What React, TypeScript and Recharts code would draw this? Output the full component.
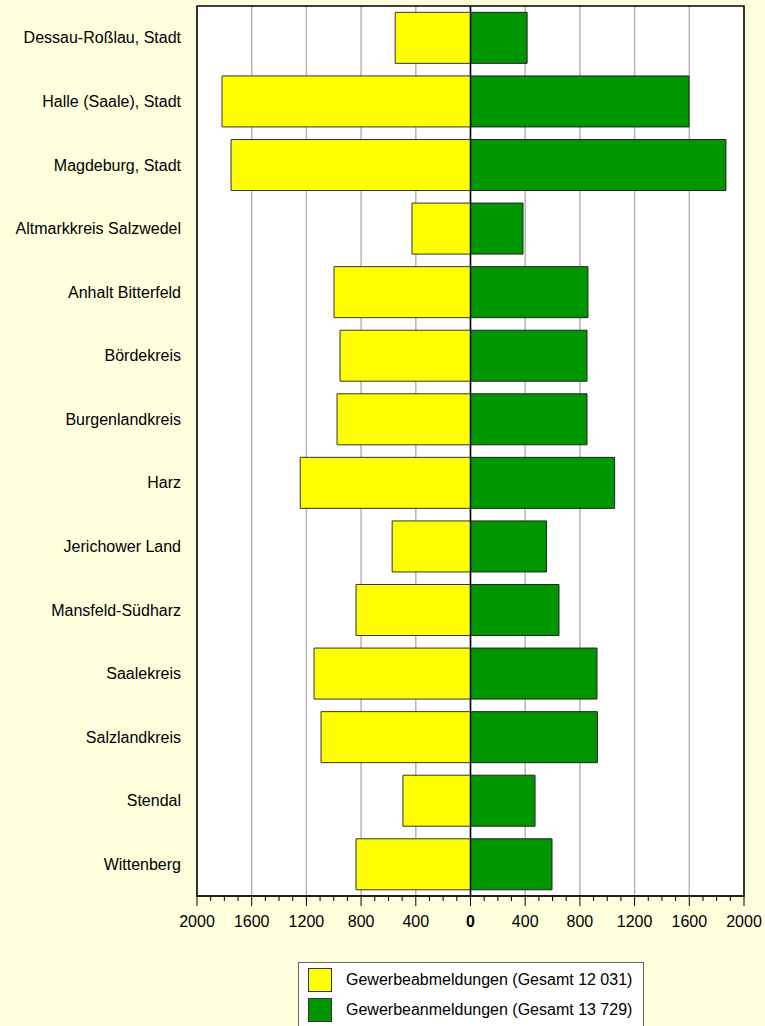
import {
  BarChart,
  Bar,
  XAxis,
  YAxis,
  CartesianGrid,
  ReferenceLine,
  ReferenceArea,
} from "recharts";

const REGIONS = [
  "Dessau-Roßlau, Stadt",
  "Halle (Saale), Stadt",
  "Magdeburg, Stadt",
  "Altmarkkreis Salzwedel",
  "Anhalt Bitterfeld",
  "Bördekreis",
  "Burgenlandkreis",
  "Harz",
  "Jerichower Land",
  "Mansfeld-Südharz",
  "Saalekreis",
  "Salzlandkreis",
  "Stendal",
  "Wittenberg",
];

// left side (yellow)
const ABMELDUNGEN = [551, 1817, 1751, 428, 998, 954, 976, 1245, 573, 837, 1144, 1093, 494, 837];
// right side (green)
const ANMELDUNGEN = [414, 1598, 1868, 384, 859, 852, 852, 1054, 556, 647, 925, 928, 472, 596];

const SERIES_NAMES = [
  "Gewerbeabmeldungen (Gesamt 12 031)",
  "Gewerbeanmeldungen (Gesamt 13 729)",
];
const COLORS = ["#ffff00", "#009600"];

const MAJOR_TICKS = [-2000, -1600, -1200, -800, -400, 0, 400, 800, 1200, 1600, 2000];
const MINOR_OFFSETS = [0, 100, 200, 300];

const ALL_TICKS = MAJOR_TICKS.flatMap((t) =>
  t === 2000 ? [t] : MINOR_OFFSETS.map((o) => t + o)
);

const data = REGIONS.map((name, i) => ({
  name,
  ab: -ABMELDUNGEN[i],
  an: ANMELDUNGEN[i],
}));

const FONT = "'Liberation Sans', Arial, sans-serif";

const AxisTick = ({ x, y, payload }: any) => {
  const v = payload.value;
  const major = MAJOR_TICKS.includes(v);
  return (
    <g>
      <line x1={x} x2={x} y1={y} y2={y + (major ? 10 : 5)} stroke="#000" />
      {major && (
        <text
          x={x}
          y={y + 31}
          textAnchor="middle"
          fontSize={16}
          fontWeight={v === 0 ? "bold" : "normal"}
          fill="#000"
        >
          {Math.abs(v)}
        </text>
      )}
    </g>
  );
};

export default function App() {
  return (
    <div
      style={{
        position: "absolute",
        left: 0,
        top: 0,
        width: 765,
        height: 1026,
        overflow: "hidden",
        background: "#ffffdd",
        fontFamily: FONT,
      }}
    >
      <BarChart
        width={765}
        height={1026}
        data={data}
        layout="vertical"
        stackOffset="sign"
        barCategoryGap="10%"
        margin={{ top: 6, right: 21, left: 10, bottom: 100 }}
      >
        <CartesianGrid
          horizontal={false}
          verticalValues={MAJOR_TICKS}
          stroke="#b4b4b4"
          strokeWidth={1.5}
          fill="#ffffff"
          fillOpacity={1}
        />
        <XAxis
          type="number"
          domain={[-2000, 2000]}
          ticks={ALL_TICKS}
          interval={0}
          tickSize={0}
          tickMargin={0}
          tickLine={false}
          tick={<AxisTick />}
          axisLine={{ stroke: "#000" }}
          height={30}
          allowDataOverflow
        />
        <YAxis
          type="category"
          dataKey="name"
          width={187}
          tickLine={false}
          axisLine={false}
          tickSize={0}
          tickMargin={16}
          tick={{ fill: "#000", fontSize: 16 }}
          interval={0}
        />
        <Bar
          dataKey="ab"
          stackId="s"
          fill={COLORS[0]}
          stroke="#333"
          strokeWidth={1}
          isAnimationActive={false}
        />
        <Bar
          dataKey="an"
          stackId="s"
          fill={COLORS[1]}
          stroke="#222"
          strokeWidth={1}
          isAnimationActive={false}
        />
        <ReferenceLine x={0} stroke="#000" strokeWidth={1.5} />
        <ReferenceArea x1={-2000} x2={2000} fill="none" fillOpacity={0} stroke="#000" strokeWidth={1.5} />
      </BarChart>
      <div
        style={{
          position: "absolute",
          left: 298,
          top: 962,
          width: 346,
          height: 72,
          background: "#fff",
          border: "1px solid #666",
          boxSizing: "border-box",
        }}
      >
        {SERIES_NAMES.map((n, i) => (
          <div
            key={n}
            style={{
              position: "absolute",
              left: 9,
              top: 4 + i * 30,
              height: 25,
              display: "flex",
              alignItems: "center",
              whiteSpace: "nowrap",
            }}
          >
            <div
              style={{
                width: 24,
                height: 24,
                background: COLORS[i],
                border: "1px solid #333",
                boxSizing: "border-box",
                marginRight: 14,
              }}
            />
            <span style={{ fontSize: 16, color: "#000" }}>{n}</span>
          </div>
        ))}
      </div>
    </div>
  );
}
